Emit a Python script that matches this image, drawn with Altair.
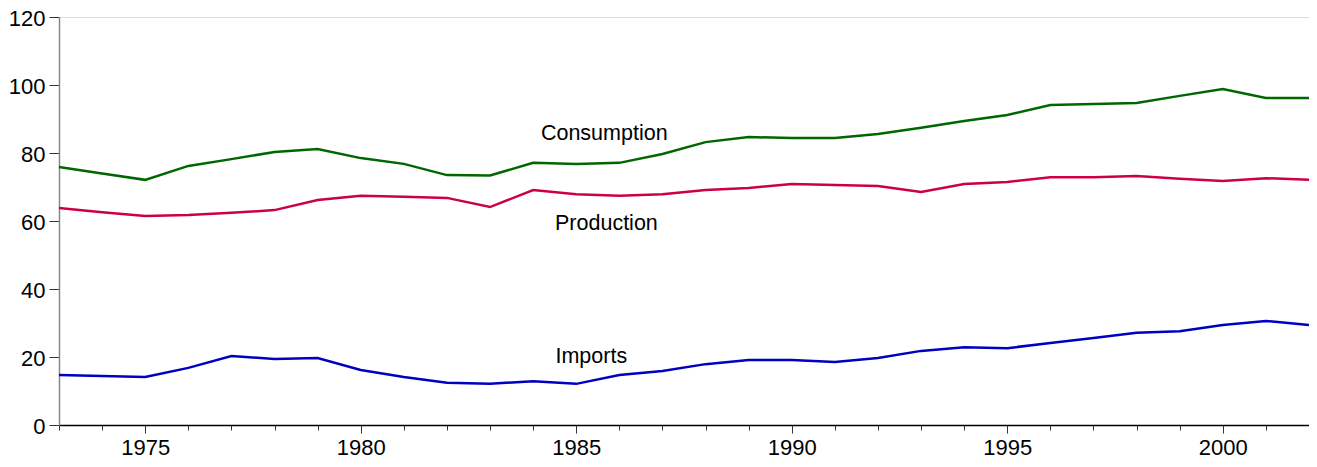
import altair as alt
import pandas as pd

years = list(range(1973, 2003))
consumption = [75.9, 74.0, 72.1, 76.2, 78.2, 80.3, 81.2, 78.5, 76.8, 73.5,
               73.4, 77.1, 76.8, 77.1, 79.7, 83.2, 84.7, 84.4, 84.4, 85.6,
               87.4, 89.4, 91.2, 94.1, 94.4, 94.7, 96.8, 98.8, 96.2, 96.2]
production = [63.8, 62.6, 61.5, 61.8, 62.4, 63.2, 66.2, 67.4, 67.1, 66.8,
              64.1, 69.1, 67.9, 67.4, 67.9, 69.1, 69.7, 70.9, 70.6, 70.3,
              68.5, 70.9, 71.5, 72.9, 72.9, 73.2, 72.4, 71.8, 72.6, 72.1]
imports = [14.7, 14.4, 14.1, 16.8, 20.3, 19.4, 19.7, 16.2, 14.1, 12.4,
           12.1, 12.9, 12.1, 14.7, 15.9, 17.9, 19.1, 19.1, 18.5, 19.7,
           21.8, 22.9, 22.6, 24.1, 25.6, 27.1, 27.6, 29.4, 30.6, 29.4]

series_names = ["Consumption", "Production", "Imports"]
series_colors = ["#006600", "#cc0044", "#0000c0"]

label_text = ["Consumption", "Production", "Imports"]
label_x = [1985.65, 1985.7, 1985.35]
label_y = [85.6, 59.1, 20.0]

rows = []
for name, vals in zip(series_names, [consumption, production, imports]):
    for yr, v in zip(years, vals):
        rows.append({"year": yr, "value": v, "series": name})
df = pd.DataFrame(rows)
labels = pd.DataFrame({"text": label_text, "x": label_x, "y": label_y})

FONT = "Liberation Sans"

x_scale = alt.Scale(domain=[1973, 2002], nice=False, zero=False)
y_scale = alt.Scale(domain=[0, 120], nice=False)

lines = alt.Chart(df).mark_line(strokeWidth=2.5).encode(
    x=alt.X("year:Q", scale=x_scale,
            axis=alt.Axis(values=years, format="d", title=None,
                          labelExpr="datum.value % 5 == 0 ? datum.label : ''",
                          tickSize={"condition": {"test": "datum.value % 5 == 0", "value": 8}, "value": 5},
                          domainColor="#000000", tickColor="#333333",
                          labelFont=FONT, labelFontSize=22, labelColor="#000000",
                          labelPadding=4, grid=False, labelFlush=False,
                          domainWidth=1.3)),
    y=alt.Y("value:Q", scale=y_scale,
            axis=alt.Axis(values=[0, 20, 40, 60, 80, 100, 120], title=None,
                          tickSize=10, domainColor="#888888", tickColor="#333333",
                          labelFont=FONT, labelFontSize=22, labelColor="#000000",
                          labelPadding=4, labelOffset=1, grid=False, domainWidth=1.5)),
    color=alt.Color("series:N", scale=alt.Scale(domain=series_names, range=series_colors),
                    legend=None),
    detail="series:N",
)

text = alt.Chart(labels).mark_text(font=FONT, fontSize=21.5, color="#000000",
                                   align="center", baseline="middle").encode(
    x=alt.X("x:Q", scale=x_scale),
    y=alt.Y("y:Q", scale=y_scale),
    text="text:N",
)

chart = alt.layer(lines, text).properties(
    width=1250, height=408,
    padding={"left": 51, "top": 9, "right": 0, "bottom": 34},
    autosize=alt.AutoSizeParams(type="none"),
).configure_view(stroke=None).configure(background="#ffffff")

chart.save("out.html", embed_options={"renderer": "svg", "actions": False})
